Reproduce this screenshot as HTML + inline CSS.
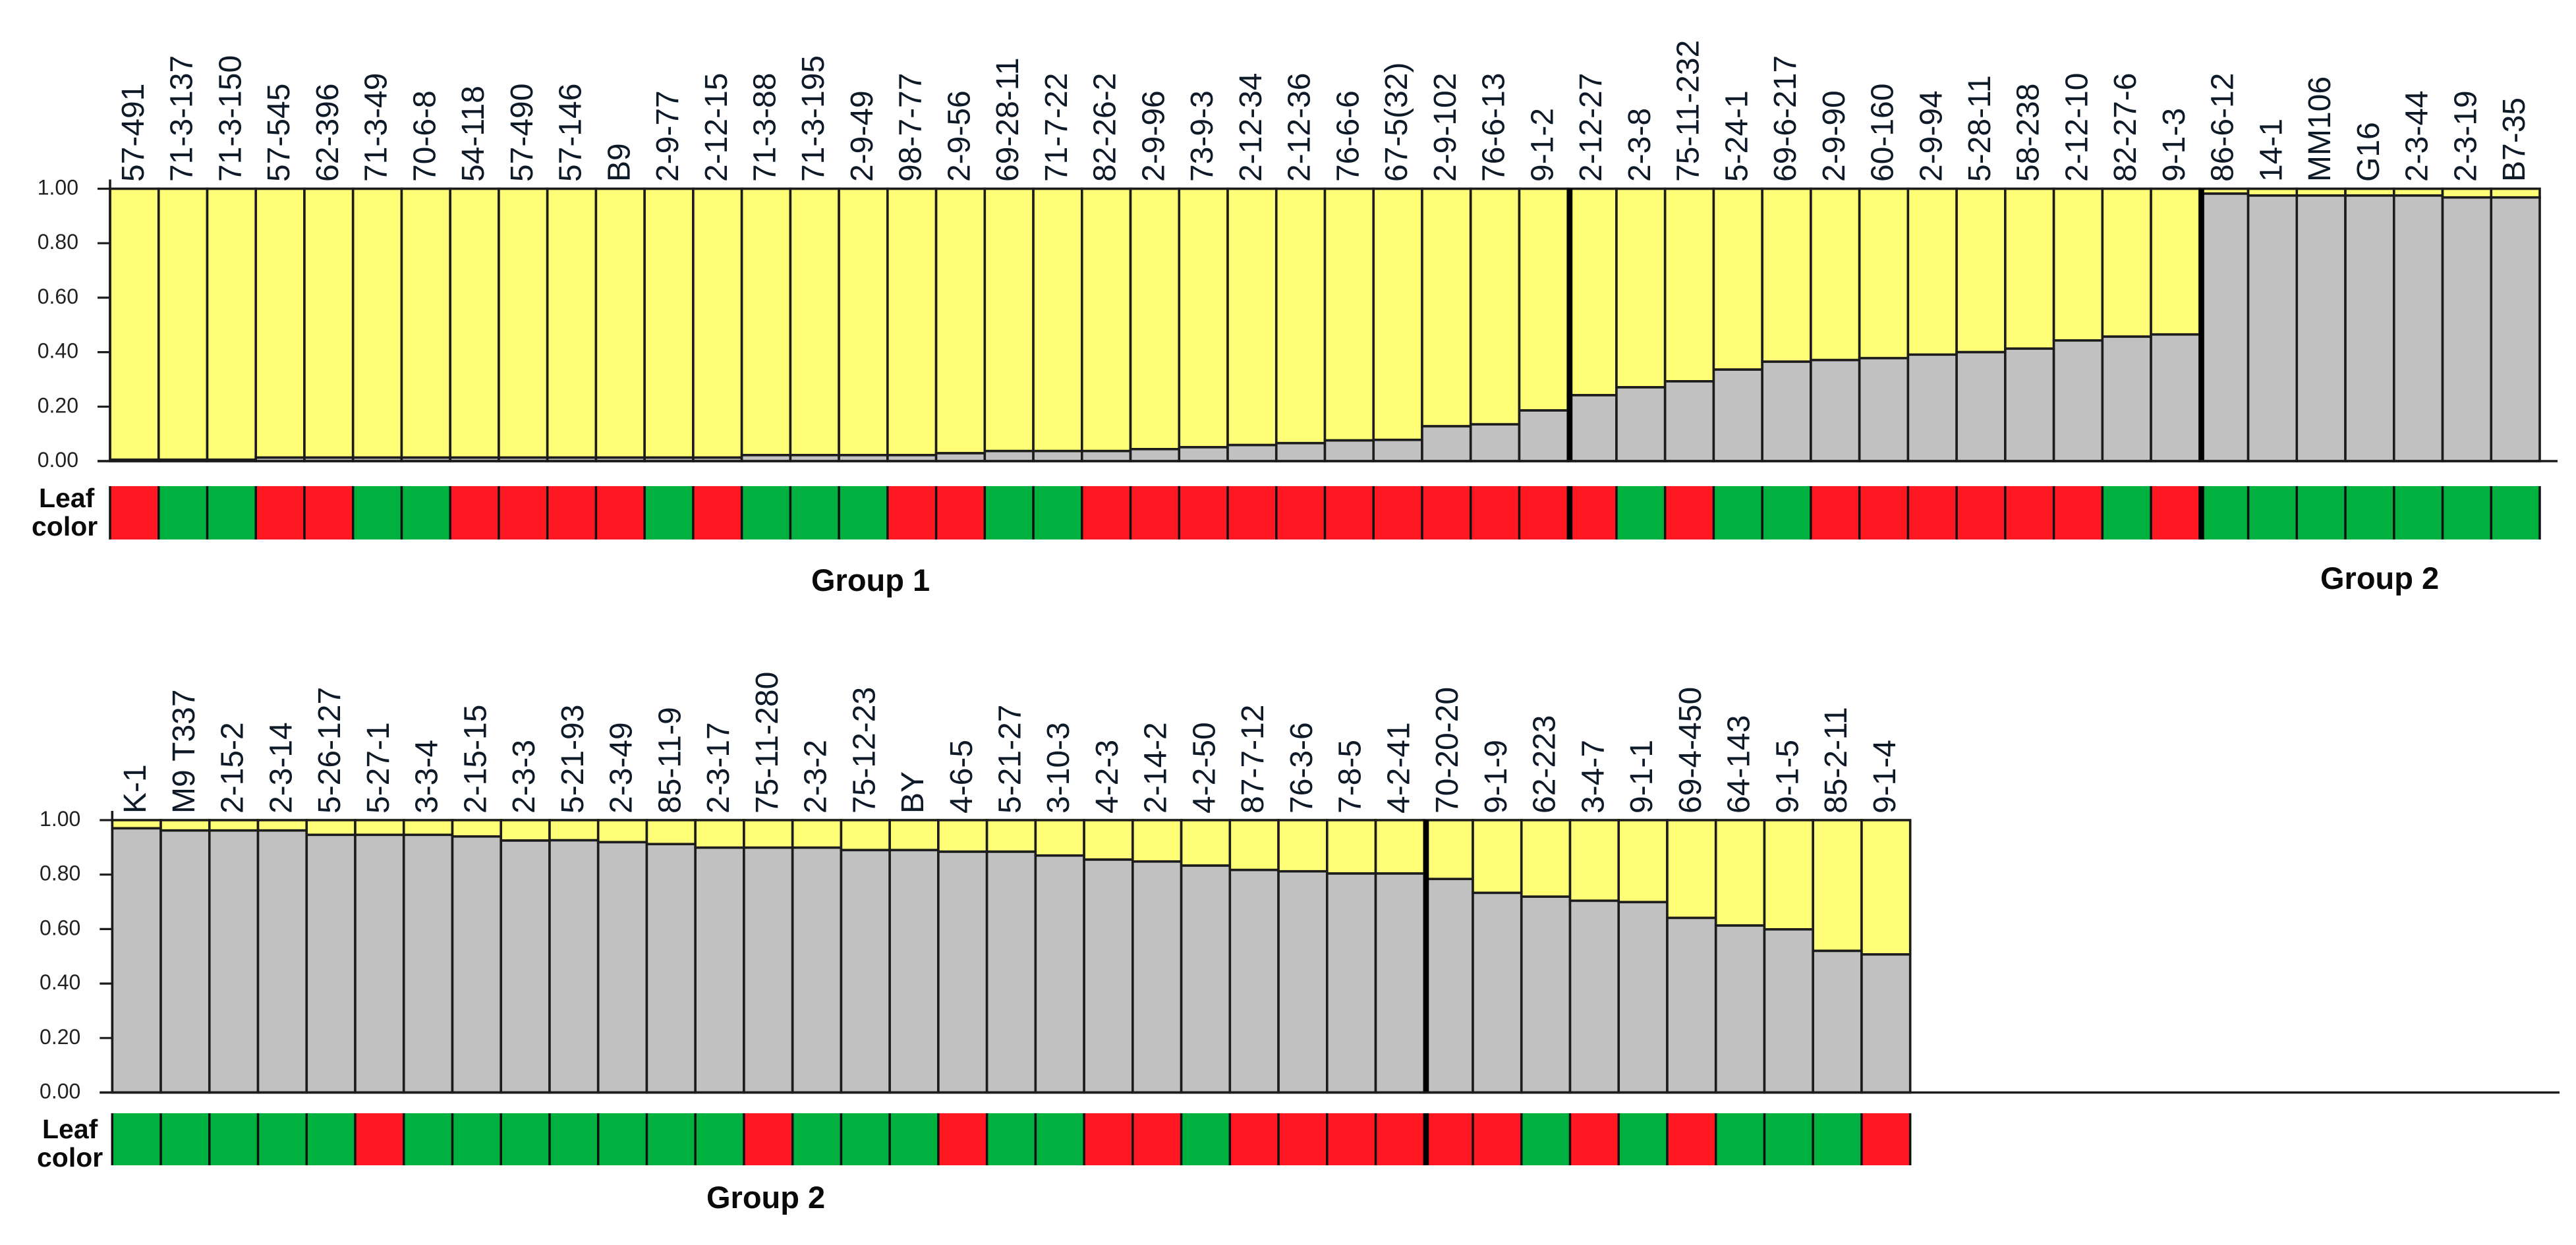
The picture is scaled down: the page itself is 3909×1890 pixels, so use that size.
<!DOCTYPE html>
<html lang="en">
<head>
<meta charset="utf-8">
<title>Population structure bar plot with leaf color</title>
<style>
  html, body { margin: 0; padding: 0; background: #ffffff; }
  svg { display: block; }
  text { font-family: "Liberation Sans", Arial, sans-serif; }
  .sample { font-size: 48px; fill: #0e1a28; }
  .tick { font-size: 32px; fill: #222222; }
  .bold { font-weight: bold; fill: #0a0a0a; }
</style>
</head>
<body>
<svg id="chart" xmlns="http://www.w3.org/2000/svg" width="3909" height="1890" viewBox="0 0 3909 1890">
  <rect x="0" y="0" width="3909" height="1890" fill="#ffffff"/>
  <g id="panel-top"></g>
  <g id="panel-bottom"></g>
  <text class="bold" x="59" y="770" font-size="41">Leaf</text>
  <text class="bold" x="48" y="813" font-size="41">color</text>
  <text class="bold" x="64" y="1728" font-size="41">Leaf</text>
  <text class="bold" x="56" y="1771" font-size="41">color</text>
  <text class="bold" x="1231" y="897" font-size="47">Group 1</text>
  <text class="bold" x="3521" y="894" font-size="47">Group 2</text>
  <text class="bold" x="1072" y="1834" font-size="47">Group 2</text>
</svg>
<script>
const tickValues = [0, 0.2, 0.4, 0.6, 0.8, 1];
const tickLabels = ["0.00", "0.20", "0.40", "0.60", "0.80", "1.00"];

const samplesTop = ["57-491","71-3-137","71-3-150","57-545","62-396","71-3-49","70-6-8","54-118","57-490","57-146","B9","2-9-77","2-12-15","71-3-88","71-3-195","2-9-49","98-7-77","2-9-56","69-28-11","71-7-22","82-26-2","2-9-96","73-9-3","2-12-34","2-12-36","76-6-6","67-5(32)","2-9-102","76-6-13","9-1-2","2-12-27","2-3-8","75-11-232","5-24-1","69-6-217","2-9-90","60-160","2-9-94","5-28-11","58-238","2-12-10","82-27-6","9-1-3","86-6-12","14-1","MM106","G16","2-3-44","2-3-19","B7-35"];
const grayTop = [0.005,0.005,0.005,0.013,0.013,0.013,0.013,0.013,0.013,0.013,0.013,0.013,0.013,0.022,0.022,0.022,0.022,0.029,0.037,0.037,0.037,0.044,0.051,0.059,0.066,0.076,0.078,0.128,0.135,0.186,0.242,0.271,0.293,0.336,0.365,0.371,0.378,0.391,0.4,0.413,0.443,0.457,0.465,0.982,0.975,0.975,0.975,0.975,0.968,0.968];
const leafTop = ["R","G","G","R","R","G","G","R","R","R","R","G","R","G","G","G","R","R","G","G","R","R","R","R","R","R","R","R","R","R","R","G","R","G","G","R","R","R","R","R","R","G","R","G","G","G","G","G","G","G"];
const breaksTop = [30, 43];

const samplesBottom = ["K-1","M9 T337","2-15-2","2-3-14","5-26-127","5-27-1","3-3-4","2-15-15","2-3-3","5-21-93","2-3-49","85-11-9","2-3-17","75-11-280","2-3-2","75-12-23","BY","4-6-5","5-21-27","3-10-3","4-2-3","2-14-2","4-2-50","87-7-12","76-3-6","7-8-5","4-2-41","70-20-20","9-1-9","62-223","3-4-7","9-1-1","69-4-450","64-143","9-1-5","85-2-11","9-1-4"];
const grayBottom = [0.97,0.962,0.962,0.962,0.946,0.946,0.946,0.94,0.925,0.926,0.919,0.912,0.899,0.899,0.899,0.89,0.89,0.884,0.884,0.87,0.855,0.848,0.833,0.817,0.812,0.804,0.804,0.784,0.733,0.719,0.704,0.699,0.641,0.613,0.599,0.52,0.507];
const leafBottom = ["G","G","G","G","G","R","G","G","G","G","G","G","G","R","G","G","G","R","G","G","R","R","G","R","R","R","R","R","R","G","R","G","R","G","G","G","R"];
const breaksBottom = [27];

const SVG_NS = "http://www.w3.org/2000/svg";
const YELLOW = "#ffff77";
const GRAY = "#c1c1c1";
const LEAF_FILL = { R: "#ff1821", G: "#00b140" };
const LINE = "#1c1c1c";

function make(parent, tag, attrs) {
  const el = document.createElementNS(SVG_NS, tag);
  for (const k in attrs) el.setAttribute(k, attrs[k]);
  parent.appendChild(el);
  return el;
}

function drawPanel(parent, cfg, samples, gray, leaf, breaks) {
  const barW = 73.74;
  const x = i => cfg.left + i * barW;
  const y = v => cfg.zero - v * (cfg.zero - cfg.one);

  samples.forEach((name, i) => {
    const g = gray[i];
    const yellowRect = make(parent, "rect", { x: x(i), y: y(1), width: barW, height: y(g) - y(1), fill: YELLOW, stroke: LINE, "stroke-width": 3.6 });
    
    
    const grayRect = make(parent, "rect", { x: x(i), y: y(g), width: barW, height: y(0) - y(g), fill: GRAY, stroke: LINE, "stroke-width": 3.6 });
    
    
    const cell = make(parent, "rect", { x: x(i), y: cfg.stripTop, width: barW, height: cfg.stripBottom - cfg.stripTop, fill: LEAF_FILL[leaf[i]] });
    
    
    const cx = x(i) + barW / 2 + 14;
    const label = make(parent, "text", { class: "sample", x: cx, y: cfg.labelBase, transform: "rotate(-90 " + cx + " " + cfg.labelBase + ")" });
    label.textContent = name;
    
    
  });

  for (let i = 0; i <= samples.length; i++) {
    const sep = make(parent, "rect", { x: x(i) - 1.75, y: cfg.stripTop, width: 3.5, height: cfg.stripBottom - cfg.stripTop, fill: "#111111" });
    
    
  }

  breaks.forEach(b => {
    const thick = make(parent, "rect", { x: x(b) - 1, y: y(1), width: 8, height: y(0) - y(1), fill: "#000000" });
    
    
    const thickStrip = make(parent, "rect", { x: x(b) - 1, y: cfg.stripTop, width: 8, height: cfg.stripBottom - cfg.stripTop, fill: "#000000" });
    
    
  });

  const baseline = make(parent, "line", { x1: cfg.left - 19, x2: cfg.axisRight, y1: y(0), y2: y(0), stroke: LINE, "stroke-width": 3.6 });
  
  
  const yAxis = make(parent, "line", { x1: cfg.left, x2: cfg.left, y1: y(1) - 14, y2: y(0), stroke: LINE, "stroke-width": 3.6 });
  
  

  tickValues.forEach((v, i) => {
    const tick = make(parent, "line", { x1: cfg.left - 19, x2: cfg.left, y1: y(v), y2: y(v), stroke: LINE, "stroke-width": 3.2 });
    
    
    const t = make(parent, "text", { class: "tick", x: cfg.left - 48, y: y(v) + 9, "text-anchor": "end" });
    t.textContent = tickLabels[i];
    
    
  });
}

drawPanel(document.getElementById("panel-top"),
  { left: 167, zero: 700, one: 286.5, stripTop: 738, stripBottom: 819, labelBase: 276, axisRight: 3881 },
  samplesTop, grayTop, leafTop, breaksTop);

drawPanel(document.getElementById("panel-bottom"),
  { left: 170.3, zero: 1658.5, one: 1245, stripTop: 1690, stripBottom: 1769, labelBase: 1235, axisRight: 3884 },
  samplesBottom, grayBottom, leafBottom, breaksBottom);
</script>
</body>
</html>
